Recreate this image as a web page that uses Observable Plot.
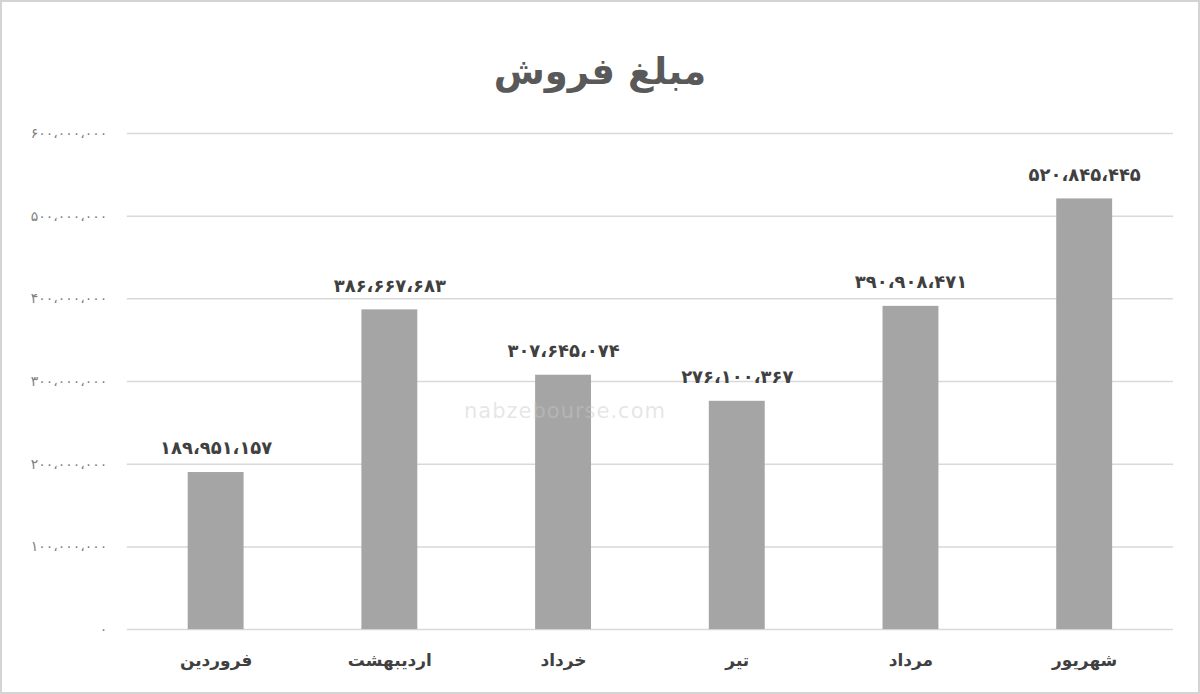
<!DOCTYPE html>
<html>
<head>
<meta charset="utf-8">
<script src="https://cdn.jsdelivr.net/npm/d3@7"></script>
<script src="https://cdn.jsdelivr.net/npm/@observablehq/plot@0.6"></script>
<style>
  html, body { margin: 0; padding: 0; background: #fff; }
  #wrap { position: relative; width: 1200px; height: 694px; box-sizing: border-box; border: 2px solid #d4d4d4; overflow: hidden; background: #fff; }
  #title { position: absolute; left: 0; top: 40px; width: 1196px; text-align: center; font-family: "DejaVu Sans", sans-serif; font-weight: bold; font-size: 37px; color: #595959; direction: rtl; line-height: 60px; }
  #chart { position: absolute; left: -2px; top: 98px; }
  .wm { position: absolute; font-family: "DejaVu Sans", sans-serif; color: rgba(200,200,200,0.45); pointer-events: none; }
  #chart g[aria-label="y-axis tick label"] text { letter-spacing: 2.6px; }
</style>
</head>
<body>
<div id="wrap">
  <div id="title">مبلغ فروش</div>
  <div id="chart"></div>
  <div class="wm" style="left:462px; top:397px; font-size:21px; letter-spacing:1px;">nabzebourse.com</div>
</div>
<script>
const months = ["فروردین", "اردیبهشت", "خرداد", "تیر", "مرداد", "شهریور"];
const sales = [189951157, 386667683, 307645074, 276100367, 390908471, 520845445];
const yTicks = [0, 100000000, 200000000, 300000000, 400000000, 500000000, 600000000];

const faDigits = "۰۱۲۳۴۵۶۷۸۹";
function fa(n) {
  const s = Math.round(n).toString().replace(/\B(?=(\d{3})+(?!\d))/g, "،");
  return s.replace(/\d/g, d => faDigits[+d]);
}

const data = months.map((m, i) => ({month: m, value: sales[i]}));

const plot = Plot.plot({
  width: 1200,
  height: 596,
  marginTop: 33,
  marginBottom: 66,
  marginLeft: 127,
  marginRight: 25,
  style: {fontFamily: "DejaVu Sans, sans-serif", background: "transparent"},
  x: {domain: months, paddingInner: 0.68, paddingOuter: 0.34, label: null},
  y: {domain: [0, 600000000], label: null},
  marks: [
    Plot.gridY(yTicks, {stroke: "#d9d9d9", strokeOpacity: 1, strokeWidth: 1.5}),
    Plot.axisY(yTicks, {tickSize: 0, tickPadding: 20, tickFormat: fa, fontSize: 14, fill: "#7f7f7f", label: null}),
    Plot.axisX({tickSize: 0, tickPadding: 24, fontSize: 17, fontWeight: "bold", fill: "#404040", label: null}),
    Plot.barY(data, {x: "month", y: "value", fill: "#a5a5a5"}),
    Plot.text(data, {x: "month", y: "value", text: d => fa(d.value), dy: -24, fontSize: 18, fontWeight: "bold", fill: "#404040"})
  ]
});
document.getElementById("chart").appendChild(plot);
</script>
</body>
</html>
